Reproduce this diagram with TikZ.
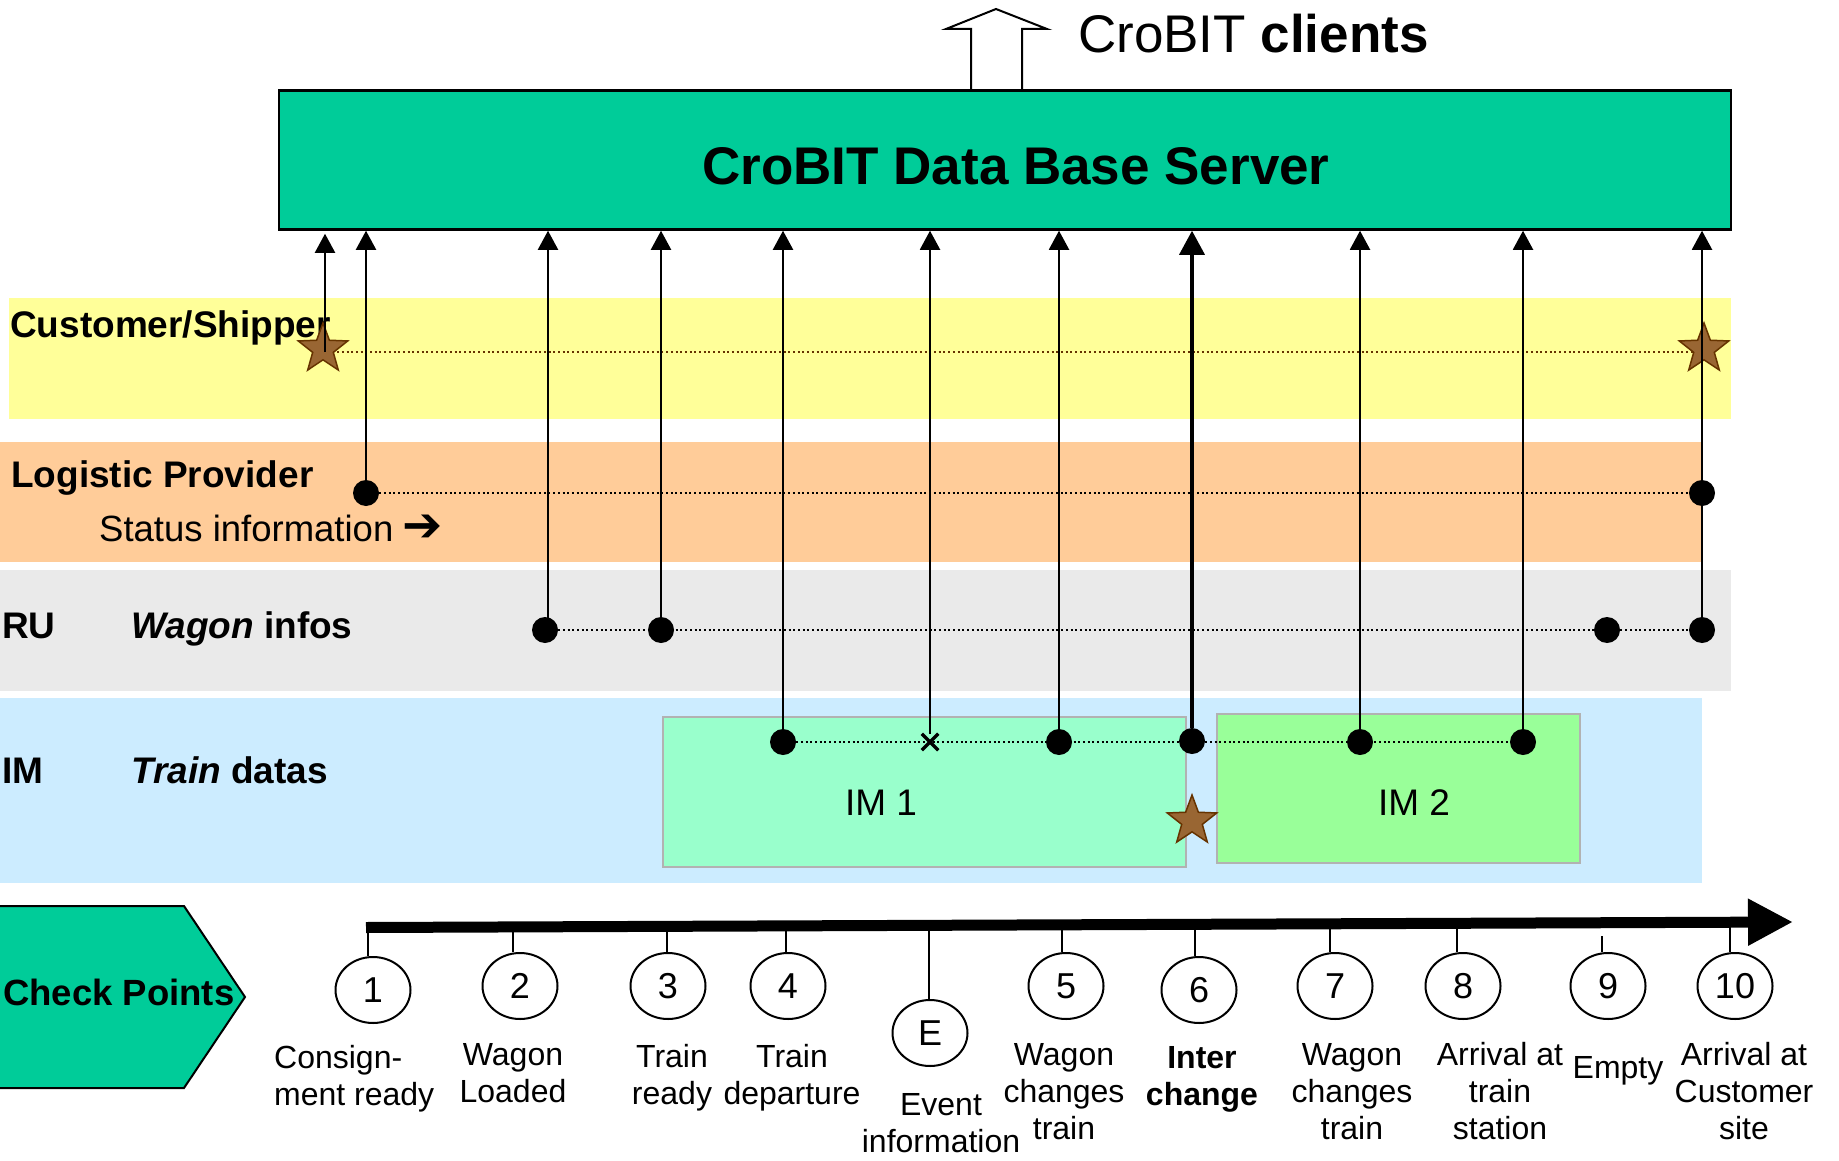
\documentclass[tikz,border=0pt]{standalone}
\usepackage{fontspec}
\setmainfont{Liberation Sans}
\newfontfamily\dejavu{DejaVu Sans}
\usetikzlibrary{arrows.meta,shapes.geometric,shapes.misc}
\definecolor{srvgreen}{HTML}{00CC99}
\definecolor{laneY}{HTML}{FFFF99}
\definecolor{laneO}{HTML}{FFCC99}
\definecolor{laneG}{HTML}{EAEAEA}
\definecolor{laneB}{HTML}{CCECFF}
\definecolor{imonefill}{HTML}{99FFCC}
\definecolor{imtwofill}{HTML}{99FF99}
\definecolor{boxgrey}{HTML}{B2B2B2}
\definecolor{starfill}{HTML}{996633}
\definecolor{starline}{HTML}{663300}
\pgfdeclarelayer{back}
\pgfdeclarelayer{mid}
\pgfsetlayers{back,mid,main}
\begin{document}
\begin{tikzpicture}[x=1pt,y=-1pt,
  server/.style={draw=black, line width=2.5pt, fill=srvgreen, rectangle, inner sep=0pt, minimum width=1452pt, minimum height=139pt},
  imbox/.style={draw=boxgrey, line width=2pt, rectangle, inner sep=0pt},
  vline/.style={line width=2pt, -{Triangle[length=19pt,width=20pt]}},
  vthick/.style={line width=3.5pt, -{Triangle[length=24pt,width=25pt]}},
  dotline/.style={line width=2pt, dash pattern=on 2pt off 2.7pt},
  bigdot/.style={circle, fill=black, inner sep=0pt, minimum size=26pt},
  brstar/.style={star, star points=5, star point ratio=2.4, fill=starfill, draw=starline, line width=1.5pt, inner sep=0pt, minimum size=52pt},
  cp/.style={ellipse, draw=black, line width=2pt, fill=white, minimum width=75pt, minimum height=66pt, inner sep=0pt, font=\fontsize{36}{40}\selectfont},
  cplabel/.style={inner sep=0pt, anchor=north, align=center, font=\fontsize{32}{37}\selectfont},
  cptick/.style={line width=2pt},
  lanelabel/.style={inner sep=0pt, anchor=base west, font=\bfseries\fontsize{37}{40}\selectfont},
]
\useasboundingbox (0,0) rectangle (1839,1161);

% ---------- bands and IM boxes ----------
\begin{pgfonlayer}{back}
\fill[laneY] (9,298) rectangle (1731,419);
\fill[laneO] (0,442) rectangle (1702,562);
\fill[laneG] (0,570) rectangle (1731,691);
\fill[laneB] (0,698) rectangle (1702,883);
\node[imbox, fill=imonefill, minimum width=523pt, minimum height=150pt] (im1) at (924.5,792) {};
\node[imbox, fill=imtwofill, minimum width=363pt, minimum height=149pt] (im2) at (1398.5,788.5) {};
\end{pgfonlayer}

\node[inner sep=0pt, anchor=base, font=\fontsize{37}{40}\selectfont] (im1label) at (881,815) {IM 1};
\node[inner sep=0pt, anchor=base, font=\fontsize{37}{40}\selectfont] (im2label) at (1414,815) {IM 2};

% ---------- server and clients ----------
\draw[line width=2pt, line join=miter] (971,90) -- (971,29) -- (946,29) -- (996,9) -- (1047,29) -- (1022,29) -- (1022,90);
\node[server] (server) at (1005,160) {};
\node[anchor=base, inner sep=0pt, font=\bfseries\fontsize{53}{60}\selectfont] (srvlabel) at (1016,185) {CroBIT Data Base Server};
\node[anchor=base west, inner sep=0pt, font=\fontsize{53}{60}\selectfont] (clients) at (1078,53) {CroBIT \textbf{clients}};

% ---------- lane labels ----------
\node[lanelabel] (lcs) at (10,337) {Customer/Shipper};
\node[lanelabel] (llp) at (11,487) {Logistic Provider};
\node[inner sep=0pt, anchor=base west, font=\fontsize{36.5}{40}\selectfont] (lstat) at (99,541) {Status information\hspace{9pt}{\dejavu\bfseries\fontsize{48}{48}\selectfont ➔}};
\node[lanelabel] (lru) at (2,638) {RU};
\node[lanelabel] (lwag) at (131,638) {\textit{Wagon} infos};
\node[lanelabel] (lim) at (2,783) {IM};
\node[lanelabel] (ltrain) at (131,783) {\textit{Train} datas};

% ---------- stars, dots ----------
\node[brstar] (sC1) at (323,349) {};
\node[brstar] (sC2) at (1704,349) {};
\node[brstar] (sIM) at (1192,821) {};

\node[bigdot] (dLP1) at (366,493) {};
\node[bigdot] (dLP2) at (1702,493) {};
\node[bigdot] (dRU1) at (545,630) {};
\node[bigdot] (dRU2) at (661,630) {};
\node[bigdot] (dRU3) at (1607,630) {};
\node[bigdot] (dRU4) at (1702,630) {};
\node[bigdot] (dIM1) at (783,742) {};
\node[cross out, draw=black, line width=3.5pt, minimum size=13pt, inner sep=0pt] (xIM) at (930,742) {};
\node[bigdot] (dIM2) at (1059,742) {};
\node[bigdot] (dIM3) at (1192,741) {};
\node[bigdot] (dIM4) at (1360,742) {};
\node[bigdot] (dIM5) at (1523,742) {};

% ---------- dotted lanes ----------
\begin{pgfonlayer}{mid}
\draw[dotline, draw=starline] ([yshift=-3pt]sC1.center) -- ([yshift=-3pt]sC2.center);
\draw[dotline] (dLP1) -- (dLP2);
\draw[dotline] (dRU1) -- (dRU4);
\draw[dotline] (dIM1) -- (dIM5);
\end{pgfonlayer}

% ---------- vertical connectors to the server ----------
\draw[vline] ([xshift=2pt,yshift=-3pt]sC1.center) -- ([xshift=2pt,yshift=-3pt]sC1.center |- server.south);
\draw[vline] (dLP1) -- (dLP1 |- server.south);
\draw[vline] ([xshift=3pt]dRU1.center) -- ([xshift=3pt]dRU1.center |- server.south);
\draw[vline] (dRU2) -- (dRU2 |- server.south);
\draw[vline] (dIM1) -- (dIM1 |- server.south);
\draw[vline] (xIM) -- (xIM |- server.south);
\draw[vline] (dIM2) -- (dIM2 |- server.south);
\draw[vthick] (dIM3) -- (dIM3 |- server.south);
\draw[vline] (dIM4) -- (dIM4 |- server.south);
\draw[vline] (dIM5) -- (dIM5 |- server.south);
\draw[vline] (dRU4) -- (dRU4 |- server.south);

% ---------- check points ----------
\draw[line width=2pt, fill=srvgreen, line join=miter] (-3,906) -- (184,906) -- (245,997) -- (184,1088) -- (-3,1088);
\node[lanelabel, font=\bfseries\fontsize{36.5}{40}\selectfont] (lcp) at (3,1005) {Check Points};

\node[cp] (c1) at (373,990) {1};
\node[cp] (c2) at (520,986) {2};
\node[cp] (c3) at (668,986) {3};
\node[cp] (c4) at (788,986) {4};
\node[cp] (cE) at (930,1033) {E};
\node[cp] (c5) at (1066,986) {5};
\node[cp] (c6) at (1199,990) {6};
\node[cp] (c7) at (1335,986) {7};
\node[cp] (c8) at (1463,986) {8};
\node[cp] (c9) at (1608,986) {9};
\node[cp] (c10) at (1735,986) {10};

\coordinate (tly) at (0,925);
\draw[cptick] ([xshift=-5pt]c1.north) -- ([xshift=-5pt]c1.north |- tly);
\draw[cptick] ([xshift=-7pt]c2.north) -- ([xshift=-7pt]c2.north |- tly);
\draw[cptick] ([xshift=-1pt]c3.north) -- ([xshift=-1pt]c3.north |- tly);
\draw[cptick] ([xshift=-2pt]c4.north) -- ([xshift=-2pt]c4.north |- tly);
\draw[cptick] ([xshift=-1pt]cE.north) -- ([xshift=-1pt]cE.north |- tly);
\draw[cptick] ([xshift=-4pt]c5.north) -- ([xshift=-4pt]c5.north |- tly);
\draw[cptick] ([xshift=-4pt]c6.north) -- ([xshift=-4pt]c6.north |- tly);
\draw[cptick] ([xshift=-5pt]c7.north) -- ([xshift=-5pt]c7.north |- tly);
\draw[cptick] ([xshift=-6pt]c8.north) -- ([xshift=-6pt]c8.north |- tly);
\draw[cptick] ([xshift=-6pt]c9.north) -- ++(0,-16);
\draw[cptick] ([xshift=-5pt]c10.north) -- ([xshift=-5pt]c10.north |- tly);

\coordinate (tlS) at (366,927.5);
\coordinate (tlE) at (1793,922);
\draw[line width=11pt, -{Triangle[length=45pt,width=44pt]}] (tlS) -- (tlE);

\node[cplabel, anchor=north west, align=left] (l1) at (274,1042) {\rule{0pt}{26pt}Consign-\\ment ready};
\node[cplabel] (l2) at (513,1039) {\rule{0pt}{26pt}Wagon\\Loaded};
\node[cplabel] (l3) at (672,1041) {\rule{0pt}{26pt}Train\\ready};
\node[cplabel] (l4) at (792,1041) {\rule{0pt}{26pt}Train\\departure};
\node[cplabel] (lE) at (941,1089) {\rule{0pt}{26pt}Event\\information};
\node[cplabel] (l5) at (1064,1039) {\rule{0pt}{26pt}Wagon\\changes\\train};
\node[cplabel, font=\bfseries\fontsize{32}{37}\selectfont] (l6) at (1202,1042) {\rule{0pt}{26pt}Inter\\change};
\node[cplabel] (l7) at (1352,1039) {\rule{0pt}{26pt}Wagon\\changes\\train};
\node[cplabel] (l8) at (1500,1039) {\rule{0pt}{26pt}Arrival at\\train\\station};
\node[inner sep=0pt, anchor=base, font=\fontsize{32}{37}\selectfont] (l9) at (1618,1078) {Empty};
\node[cplabel] (l10) at (1744,1039) {\rule{0pt}{26pt}Arrival at\\Customer\\site};
\end{tikzpicture}
\end{document}
